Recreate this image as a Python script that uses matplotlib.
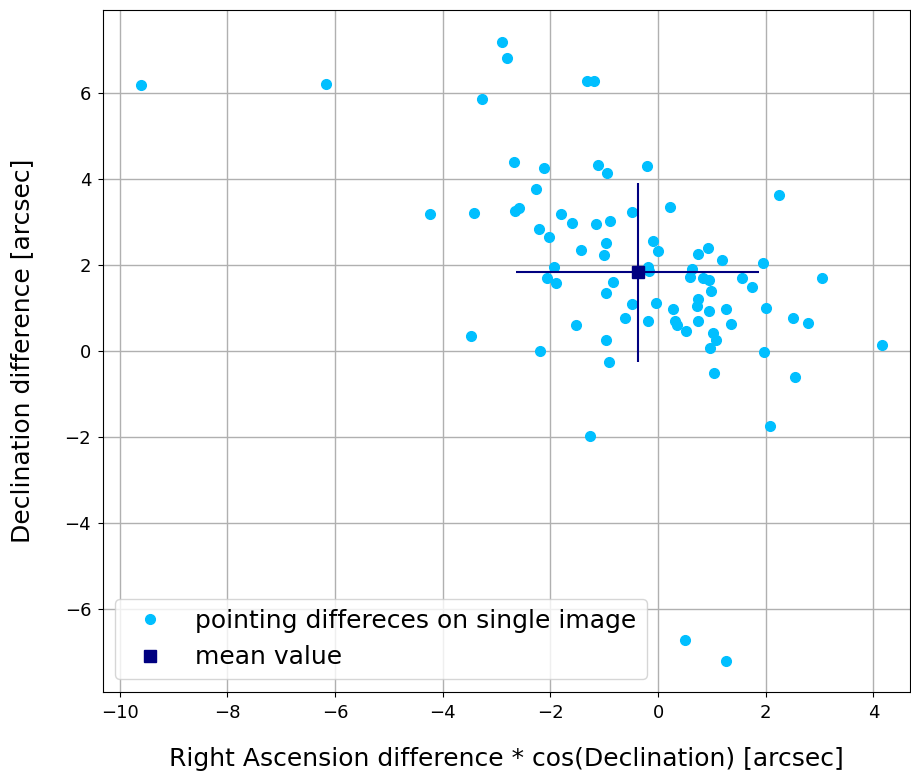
import matplotlib
matplotlib.use('Agg')
import matplotlib.pyplot as plt
import numpy as np

# pointing differences [arcsec]
ra_diff = [-9.61, -6.16, -2.89, -2.80, -3.27, -1.32, -1.19,
           -4.23, -3.42, -3.47, -2.67, -2.11, -1.12, -0.95, -0.21,
           -2.26, -2.65, -2.59, -1.80, -1.60, -1.16, -0.89, -0.49,
           0.22, -2.21, -2.02, -1.44, -0.97, -1.01, -0.09, 0.00,
           -1.94, -2.07, -1.90, -0.83, -0.97, -0.19, -0.17, -0.49,
           -0.04, -0.62, -0.18, -1.53, -0.96, -0.91, -2.19, -1.26,
           0.74, 0.93, 1.18, 0.63, 0.59, 0.84, 0.94, 0.98, 1.55,
           1.75, 1.94, 3.04, 0.75, 0.72, 0.94, 1.26, 0.28, 2.00,
           0.31, 0.36, 0.52, 0.75, 1.35, 1.02, 1.08, 0.97, 2.50,
           2.78, 1.96, 1.04, 2.54, 4.16, 2.07, 0.50, 1.27, 2.24]
dec_diff = [6.18, 6.21, 7.18, 6.81, 5.86, 6.28, 6.26,
            3.19, 3.20, 0.35, 4.38, 4.25, 4.31, 4.14, 4.29,
            3.75, 3.25, 3.31, 3.17, 2.96, 2.94, 3.01, 3.22,
            3.35, 2.84, 2.65, 2.35, 2.51, 2.23, 2.56, 2.33,
            1.94, 1.70, 1.58, 1.59, 1.34, 1.95, 1.85, 1.09,
            1.10, 0.75, 0.69, 0.59, 0.24, -0.27, 0.00, -1.98,
            2.24, 2.39, 2.12, 1.91, 1.71, 1.70, 1.64, 1.40, 1.69,
            1.47, 2.05, 1.68, 1.20, 1.03, 0.92, 0.96, 0.96, 1.00,
            0.68, 0.59, 0.46, 0.68, 0.63, 0.41, 0.25, 0.07, 0.76,
            0.65, -0.03, -0.52, -0.62, 0.13, -1.75, -6.72, -7.22, 3.61]

mean_ra = -0.38
mean_dec = 1.82
err_ra = 2.26
err_dec = 2.09

plt.figure(figsize=[9.11, 7.73], dpi=100)
plt.subplots_adjust(left=0.113, right=0.999, top=0.987, bottom=0.105)

plt.plot(ra_diff, dec_diff, 'o', color='deepskyblue', markersize=7,
         label='pointing differeces on single image', zorder=3)
plt.errorbar(mean_ra, mean_dec, xerr=err_ra, yerr=err_dec, fmt='none',
             ecolor='navy', elinewidth=1.5, zorder=4)
plt.plot(mean_ra, mean_dec, 's', color='navy', markersize=8,
         label='mean value', zorder=5)

plt.xlim(-10.31, 4.68)
plt.ylim(-7.93, 7.92)
plt.grid(True, color='#b0b0b0', linewidth=1)
plt.tick_params(labelsize=13, pad=5)
plt.xlabel('Right Ascension difference * cos(Declination) [arcsec]', fontsize=18, labelpad=18)
plt.ylabel('Declination difference [arcsec]', fontsize=18, labelpad=22)
plt.legend(loc='lower left', fontsize=18)

plt.savefig('out.png', dpi=100)
